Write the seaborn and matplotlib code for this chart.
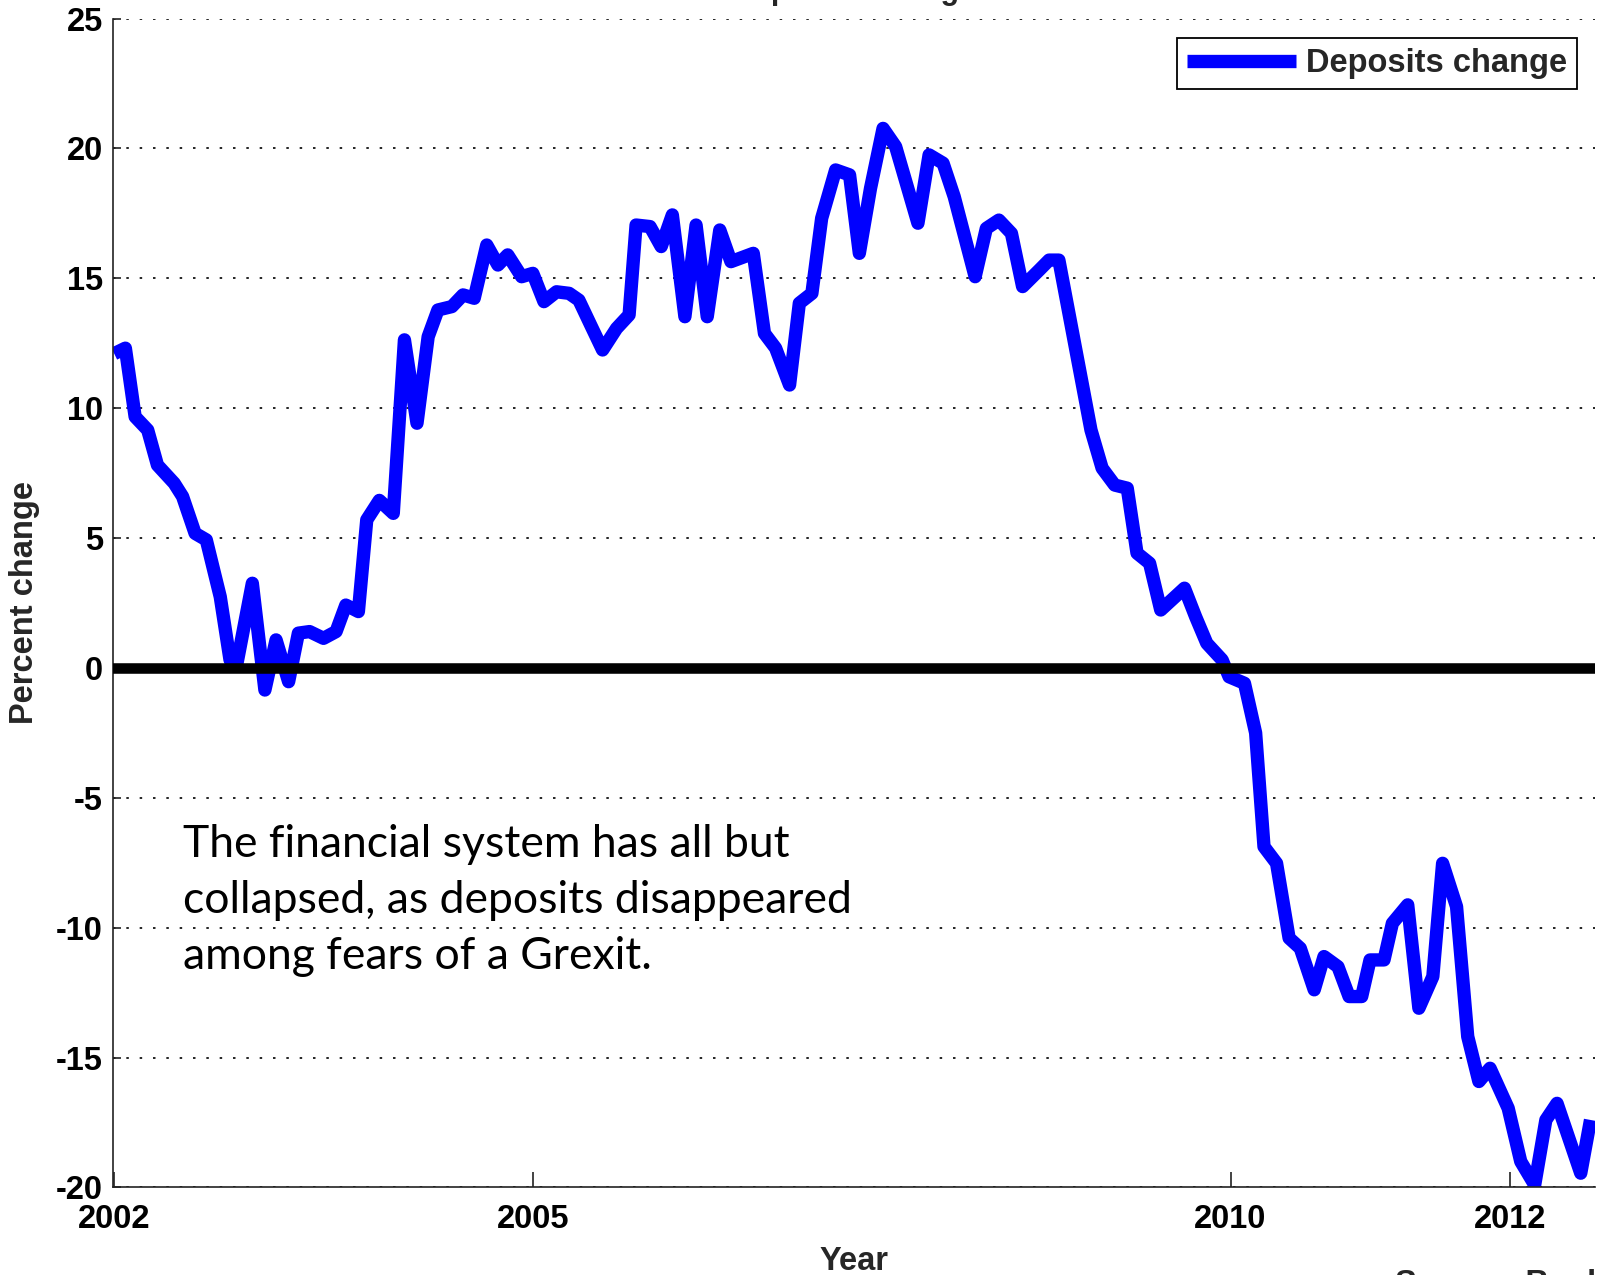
import matplotlib
matplotlib.use("Agg")
import matplotlib.pyplot as plt
import seaborn as sns
import pandas as pd

# ---- data ----
years = [2002.00, 2002.08, 2002.15, 2002.24, 2002.31, 2002.43, 2002.49, 2002.58, 2002.66, 2002.76,
         2002.83, 2002.88, 2002.99, 2003.08, 2003.16, 2003.25, 2003.32, 2003.40, 2003.50, 2003.59,
         2003.66, 2003.75, 2003.81, 2003.90, 2004.00, 2004.08, 2004.17, 2004.25, 2004.32, 2004.42,
         2004.50, 2004.58, 2004.67, 2004.75, 2004.82, 2004.92, 2005.00, 2005.08, 2005.17, 2005.26,
         2005.33, 2005.42, 2005.50, 2005.60, 2005.69, 2005.74, 2005.84, 2005.92, 2006.00, 2006.09,
         2006.17, 2006.25, 2006.34, 2006.42, 2006.58, 2006.66, 2006.74, 2006.84, 2006.91, 2007.00,
         2007.07, 2007.17, 2007.27, 2007.34, 2007.42, 2007.51, 2007.60, 2007.76, 2007.84, 2007.94,
         2008.02, 2008.17, 2008.25, 2008.34, 2008.43, 2008.51, 2008.63, 2008.70, 2008.77, 2009.00,
         2009.08, 2009.17, 2009.26, 2009.33, 2009.42, 2009.50, 2009.67, 2009.75, 2009.83, 2009.94,
         2009.99, 2010.10, 2010.18, 2010.24, 2010.33, 2010.42, 2010.50, 2010.60, 2010.67, 2010.77,
         2010.85, 2010.94, 2011.00, 2011.10, 2011.16, 2011.27, 2011.35, 2011.45, 2011.52, 2011.62,
         2011.70, 2011.78, 2011.86, 2011.99, 2012.08, 2012.18, 2012.26, 2012.34, 2012.51, 2012.58]
deposits_change = [12.10, 12.31, 9.67, 9.16, 7.81, 7.11, 6.60, 5.18, 4.93, 2.74,
                   0.31, 0.18, 3.26, -0.85, 1.08, -0.53, 1.34, 1.40, 1.14, 1.40,
                   2.42, 2.17, 5.70, 6.45, 5.95, 12.63, 9.42, 12.75, 13.78, 13.91,
                   14.36, 14.23, 16.28, 15.51, 15.90, 15.06, 15.19, 14.10, 14.48, 14.42,
                   14.16, 13.14, 12.24, 13.07, 13.59, 17.05, 16.99, 16.22, 17.44, 13.52,
                   17.05, 13.52, 16.86, 15.64, 15.96, 12.88, 12.31, 10.89, 14.04, 14.42,
                   17.31, 19.17, 18.98, 15.96, 18.46, 20.77, 20.07, 17.12, 19.75, 19.43,
                   18.14, 15.06, 16.92, 17.24, 16.73, 14.68, 15.32, 15.70, 15.70, 9.16,
                   7.69, 7.04, 6.92, 4.42, 4.03, 2.23, 3.07, 1.97, 0.95, 0.31,
                   -0.34, -0.59, -2.50, -6.88, -7.52, -10.40, -10.79, -12.39, -11.11, -11.50,
                   -12.65, -12.65, -11.24, -11.24, -9.83, -9.12, -13.10, -11.88, -7.52, -9.19,
                   -14.19, -15.92, -15.41, -16.95, -19.00, -19.90, -17.40, -16.76, -19.45, -17.40]
x_ticks = [2002, 2005, 2010, 2012]
x_tick_labels = ["2002", "2005", "2010", "2012"]
y_ticks = [-20, -15, -10, -5, 0, 5, 10, 15, 20, 25]

series_name = "Deposits change"
title_text = "Deposits change"
note_text = ("The financial system has all but\n"
             "collapsed, as deposits disappeared\n"
             "among fears of a Grexit.")
source_text = "Source: Bank of Greece"

df = pd.DataFrame({"Year": years, "Percent change": deposits_change})

# ---- style ----
sns.set_theme(style="white")
plt.rcParams["font.family"] = ["Liberation Sans", "DejaVu Sans"]
plt.rcParams["font.weight"] = "bold"

FS = 23.5
fig = plt.figure(figsize=(16.08, 12.75), dpi=100)
ax = fig.add_axes([0.07015, 0.06863, 0.92158, 0.91686])

sns.lineplot(data=df, x="Year", y="Percent change", ax=ax, color="#0000FF",
             linewidth=9.6, label=series_name, sort=False, estimator=None,
             solid_joinstyle="round", solid_capstyle="butt", zorder=2)
ax.axhline(0, color="black", linewidth=7.6, zorder=3)

ax.set_xlim(2001.99, 2012.61)
ax.set_ylim(-20, 25)
ax.set_xticks(x_ticks)
ax.set_xticklabels(x_tick_labels)
ax.set_yticks(y_ticks)
ax.set_yticklabels([str(v) for v in y_ticks])

ax.yaxis.grid(True, color="black", linestyle=(0, (1.5, 6.5)), linewidth=1.2)
ax.xaxis.grid(False)
for s in ["top", "right"]:
    ax.spines[s].set_visible(False)
for s in ["left", "bottom"]:
    ax.spines[s].set_color("#222222")
    ax.spines[s].set_linewidth(1.2)

ax.tick_params(axis="y", direction="in", length=6, width=1.2, pad=7,
               labelsize=FS, colors="#222222", labelcolor="black", left=True)
ax.tick_params(axis="x", direction="in", length=11, width=1.2, pad=12,
               labelsize=FS, colors="#222222", labelcolor="black", bottom=True)
for lab in ax.get_xticklabels() + ax.get_yticklabels():
    lab.set_fontweight("bold")

ax.set_xlabel("Year", fontsize=FS, fontweight="bold", labelpad=8)
ax.set_ylabel("Percent change", fontsize=FS, fontweight="bold")
ax.yaxis.set_label_coords(-0.049, 0.5)

leg = ax.legend(loc="upper right", bbox_to_anchor=(0.988, 0.983), frameon=True,
                fancybox=False, edgecolor="black", framealpha=1, handlelength=3.35,
                handletextpad=0.3, borderpad=0.3, borderaxespad=0,
                prop={"size": FS, "weight": "bold"})
leg.get_frame().set_linewidth(1.3)

fig.text(0.1135, 1 - 824 / 1275, note_text, fontsize=32, family=["Lato", "DejaVu Sans"],
         fontweight="normal", va="top", ha="left", linespacing=1.45, color="black")

# title and source are cut by the picture's edges in the reference
fig.text(0.531, 1 + 1.5 / 1275, title_text, fontsize=22, fontweight="bold",
         ha="center", va="baseline")
fig.text(1395 / 1608, -18 / 1275, source_text, fontsize=FS, fontweight="bold",
         ha="left", va="baseline")

fig.savefig("out.png", dpi=100)
